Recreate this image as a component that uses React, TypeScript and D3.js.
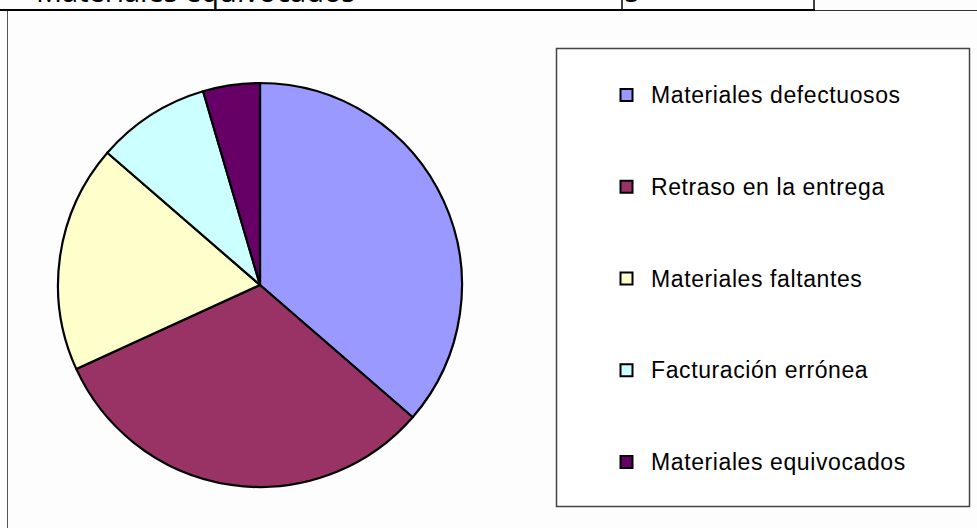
import React from "react";
import * as d3 from "d3";

const categories = [
  "Materiales defectuosos",
  "Retraso en la entrega",
  "Materiales faltantes",
  "Facturación errónea",
  "Materiales equivocados",
];
const values = [40, 35, 20, 10, 5];
const colors = ["#9999FF", "#993366", "#FFFFCC", "#CCFFFF", "#660066"];
const tableRowLabel = "Materiales equivocados";
const tableRowValue = "5";

export default function App() {
  const W = 977;
  const H = 528;
  const cx = 260;
  const cy = 285;
  const r = 202;

  const pie = d3.pie<number>().sort(null).value((d) => d);
  const arcs = pie(values);
  const arcGen = d3.arc<d3.PieArcDatum<number>>().innerRadius(0).outerRadius(r);

  const legendY = d3
    .scalePoint<string>()
    .domain(categories)
    .range([95, 462]);

  return (
    <svg
      width={W}
      height={H}
      style={{ position: "absolute", left: 0, top: 0, background: "#fdfdfd" }}
      fontFamily="'Liberation Sans', Arial, sans-serif"
    >
      <rect x={0} y={0} width={W} height={H} fill="#fdfdfd" />
      {/* cropped table row at top */}
      <text
        x={36}
        y={2}
        fontFamily="'Open Sans', 'Noto Sans', sans-serif"
        fontSize={29}
        fill="#000"
      >
        {tableRowLabel}
      </text>
      <text
        x={624}
        y={2}
        fontFamily="'Open Sans', 'Noto Sans', sans-serif"
        fontSize={29}
        fill="#000"
      >
        {tableRowValue}
      </text>
      <line x1={622} y1={0} x2={622} y2={10} stroke="#000" strokeWidth={1.5} />
      <line x1={814} y1={0} x2={814} y2={10} stroke="#000" strokeWidth={1.5} />
      <line x1={0} y1={10} x2={815} y2={10} stroke="#000" strokeWidth={2} />
      <line x1={815} y1={10.5} x2={W} y2={10.5} stroke="#333" strokeWidth={1} />
      {/* chart frame left edge */}
      <line x1={7.5} y1={11} x2={7.5} y2={H} stroke="#555" strokeWidth={1} />

      <g transform={`translate(${cx},${cy})`}>
        {arcs.map((a, i) => (
          <path
            key={i}
            d={arcGen(a) || ""}
            fill={colors[i]}
            stroke="#000"
            strokeWidth={2.2}
            strokeLinejoin="round"
          />
        ))}
      </g>

      {/* legend */}
      <rect
        x={556.5}
        y={48.5}
        width={413}
        height={458}
        fill="#fff"
        stroke="#444"
        strokeWidth={1.5}
      />
      {categories.map((c, i) => {
        const y = legendY(c) as number;
        return (
          <g key={c}>
            <rect
              x={620.5}
              y={y - 6}
              width={12}
              height={12}
              fill={colors[i]}
              stroke="#000"
              strokeWidth={2}
            />
            <text
              x={651}
              y={y}
              dy="0.35em"
              fontSize={23}
              letterSpacing={0.6}
              fill="#000"
            >
              {c}
            </text>
          </g>
        );
      })}
    </svg>
  );
}
